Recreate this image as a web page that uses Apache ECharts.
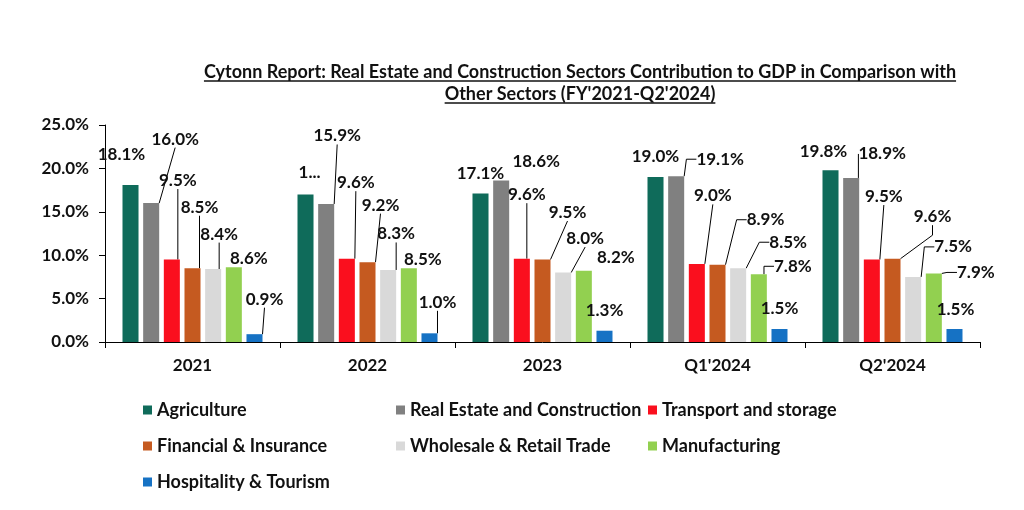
<!DOCTYPE html>
<html>
<head>
<meta charset="utf-8">
<script src="https://cdn.jsdelivr.net/npm/echarts@6/dist/echarts.min.js"></script>
<style>
html,body{margin:0;padding:0;background:#fff;}
#chart{width:1024px;height:510px;}
</style>
</head>
<body>
<div id="chart"></div>
<script>
// ---- data ----
const categories = ['2021', '2022', '2023', "Q1'2024", "Q2'2024"];
const seriesNames = ['Agriculture', 'Real Estate and Construction', 'Transport and storage',
  'Financial & Insurance', 'Wholesale & Retail Trade', 'Manufacturing', 'Hospitality & Tourism'];
const agriculture   = [18.1, 17.0, 17.1, 19.0, 19.8];
const realEstate    = [16.0, 15.9, 18.6, 19.1, 18.9];
const transport     = [9.5, 9.6, 9.6, 9.0, 9.5];
const financial     = [8.5, 9.2, 9.5, 8.9, 9.6];
const wholesale     = [8.4, 8.3, 8.0, 8.5, 7.5];
const manufacturing = [8.6, 8.5, 8.2, 7.8, 7.9];
const hospitality   = [0.9, 1.0, 1.3, 1.5, 1.5];
const yMin = 0, yMax = 25, yStep = 5;
const titleLines = ["Cytonn Report: Real Estate and Construction Sectors Contribution to GDP in Comparison with",
  "Other Sectors (FY'2021-Q2'2024)"];
// label shown truncated in the original (series index - data index)
const truncatedLabels = { '0-1': '1...' };

// ---- styling / layout (not data) ----
const colors = ['#0f6b5a', '#808080', '#fa0f1e', '#c55a20', '#d9d9d9', '#92d050', '#1672c4'];
// label centre offset from bar top-centre [dx, dy]
const labelOffsets = [
  [[-9, -30], [4, -22], [0, -20], [0, -21], [-7, -19]],
  [[24, -64], [11, -68], [35, -19], [44, -17], [31, -24]],
  [[6, -79], [9, -76], [5, -64], [16, -68], [12, -63]],
  [[7, -61], [13, -57], [25, -47], [48, -45], [40, -42]],
  [[6, -35], [8, -36], [22, -34], [50, -26], [40, -30]],
  [[15, -9], [14, -9], [32, -13], [34, -8], [42, -1]],
  [[10, -35], [8, -31], [0, -20], [0, -20], [1, -19]]
];
// leader line type: 0 none, 1 straight, 2 bracket
const leaderTypes = [
  [0, 0, 0, 0, 0],
  [1, 1, 0, 2, 1],
  [1, 1, 1, 1, 1],
  [1, 1, 1, 2, 2],
  [1, 1, 1, 2, 2],
  [0, 0, 0, 2, 2],
  [1, 1, 0, 0, 0]
];

const FONT = 'Lato';
const values = [agriculture, realEstate, transport, financial, wholesale, manufacturing, hospitality];

const series = values.map((arr, si) => ({
  name: seriesNames[si],
  type: 'bar',
  barGap: '29%',
  barCategoryGap: '20%',
  itemStyle: { color: colors[si] },
  data: arr.map((v, di) => ({
    value: v,
    labelLine: {
      show: leaderTypes[si][di] > 0,
      length2: leaderTypes[si][di] === 2 ? 10 : 0,
      smooth: false,
      lineStyle: { color: '#000', width: 1 }
    }
  })),
  label: {
    show: true,
    position: 'top',
    distance: 0,
    fontFamily: FONT,
    fontWeight: 'bold',
    fontSize: 17,
    color: '#111',
    formatter: p => truncatedLabels[si + '-' + p.dataIndex] || (p.value.toFixed(1) + '%')
  },
  labelLayout: function (params) {
    const o = labelOffsets[params.seriesIndex][params.dataIndex];
    return {
      x: params.rect.x + params.rect.width / 2 + o[0],
      y: params.rect.y + o[1],
      align: 'center',
      verticalAlign: 'middle'
    };
  }
}));

// title with underline (measured)
const titleFont = 'bold 18px ' + FONT;
const measure = document.createElement('canvas').getContext('2d');
measure.font = titleFont;
const titleCenterX = 580;
const titleYs = [72, 94];
const graphics = [];
titleLines.forEach((t, i) => {
  const w = measure.measureText(t).width;
  graphics.push({
    type: 'text', x: titleCenterX, y: titleYs[i],
    style: { text: t, font: titleFont, fill: '#111', textAlign: 'center', textVerticalAlign: 'middle' }
  });
  graphics.push({
    type: 'line',
    shape: { x1: titleCenterX - w / 2, y1: titleYs[i] + 9, x2: titleCenterX + w / 2, y2: titleYs[i] + 9 },
    style: { stroke: '#111', lineWidth: 1.3 }
  });
});

const legendBase = {
  orient: 'vertical',
  top: 401,
  padding: 0,
  itemWidth: 9,
  itemHeight: 9,
  itemGap: 18,
  icon: 'rect',
  selectedMode: false,
  textStyle: { fontFamily: FONT, fontWeight: 'bold', fontSize: 18, color: '#111' }
};

const chart = echarts.init(document.getElementById('chart'), null, { renderer: 'canvas' });
chart.setOption({
  animation: false,
  backgroundColor: '#fff',
  color: colors,
  graphic: graphics,
  legend: [
    Object.assign({}, legendBase, { left: 143, data: [seriesNames[0], seriesNames[3], seriesNames[6]] }),
    Object.assign({}, legendBase, { left: 396, data: [seriesNames[1], seriesNames[4]] }),
    Object.assign({}, legendBase, { left: 648, data: [seriesNames[2], seriesNames[5]] })
  ],
  grid: { left: 105, right: 44, top: 125, bottom: 168, containLabel: false },
  xAxis: {
    type: 'category',
    data: categories,
    axisLine: { lineStyle: { color: '#000', width: 1 } },
    axisTick: { show: true, length: 6, lineStyle: { color: '#000' } },
    axisLabel: { fontFamily: FONT, fontWeight: 'bold', fontSize: 17, color: '#111', margin: 15 }
  },
  yAxis: {
    type: 'value',
    min: yMin, max: yMax, interval: yStep,
    splitLine: { show: false },
    axisLine: { show: true, lineStyle: { color: '#000', width: 1 } },
    axisTick: { show: true, length: 6, lineStyle: { color: '#000' } },
    axisLabel: {
      fontFamily: FONT, fontWeight: 'bold', fontSize: 17, color: '#111', margin: 16,
      formatter: v => v.toFixed(1) + '%'
    }
  },
  series: series
});
</script>
</body>
</html>
